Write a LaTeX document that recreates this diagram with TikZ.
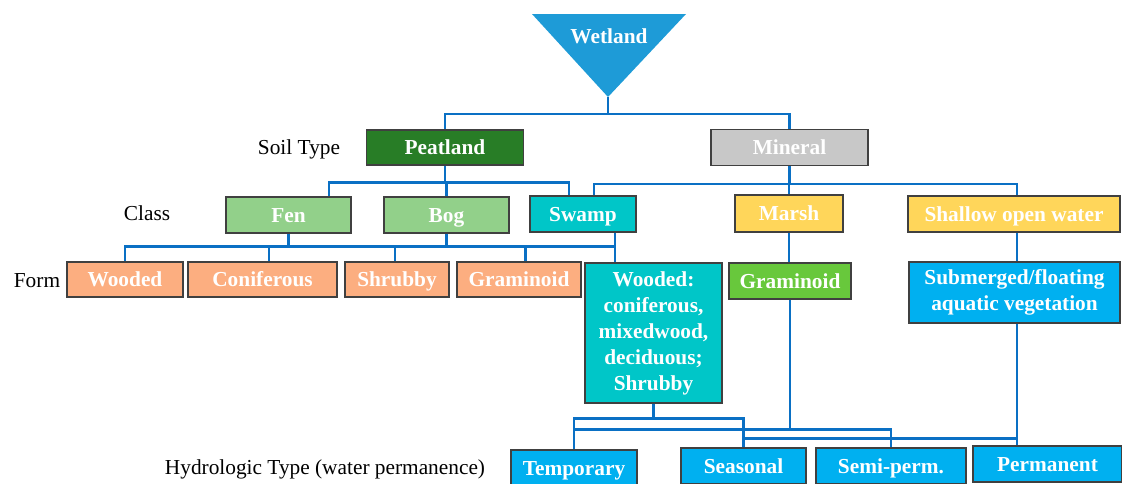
\documentclass[tikz,border=0pt]{standalone}
\usepackage{fontspec}
\setmainfont{Liberation Serif}
\usetikzlibrary{calc}
\definecolor{linkblue}{RGB}{10,112,196}
\definecolor{wetblue}{RGB}{30,155,215}
\definecolor{peatgreen}{RGB}{40,125,38}
\definecolor{mingray}{RGB}{200,200,200}
\definecolor{classgreen}{RGB}{146,208,138}
\definecolor{swampteal}{RGB}{0,198,200}
\definecolor{marshyellow}{RGB}{255,214,90}
\definecolor{formorange}{RGB}{252,174,128}
\definecolor{gramgreen}{RGB}{104,200,60}
\definecolor{hydroblue}{RGB}{0,176,240}
\definecolor{boxedge}{RGB}{64,64,64}

\begin{document}
\begin{tikzpicture}[x=0.75pt, y=-0.75pt,
  link/.style={draw=linkblue, line width=2pt},
  sz/.style 2 args={minimum width=#1*0.75pt, minimum height=#2*0.75pt},
  box/.style={draw=boxedge, line width=0.8pt, text=white, inner sep=0pt, align=center,
    font=\fontsize{16}{19.5}\selectfont\bfseries},
  onebox/.style={box, text height=11pt, text depth=0.4pt},
  lbl/.style={font=\fontsize{16}{19.5}\selectfont}]
\useasboundingbox (0,0) rectangle (1122,483);
% top
\fill[wetblue] (532,14) -- (686,14) -- (608,97) -- cycle;
\coordinate (apex) at (608,97);
\node[text=white, font=\fontsize{16}{19.5}\selectfont\bfseries] (wet) at (609,36) {Wetland};
% soil type
\node[onebox, fill=peatgreen, sz={157}{35}] (peat) at (445,147.5) {Peatland};
\node[onebox, fill=mingray, sz={157}{36}] (min) at (789.5,147.5) {Mineral};
% class
\node[onebox, fill=classgreen, sz={125}{36}] (fen) at (288.5,215) {Fen};
\node[onebox, fill=classgreen, sz={125}{36}] (bog) at (446.5,215) {Bog};
\node[onebox, fill=swampteal, sz={106}{36}] (swamp) at (583,214) {Swamp};
\node[onebox, fill=marshyellow, sz={108}{37}] (marsh) at (789,213.5) {Marsh};
\node[onebox, fill=marshyellow, sz={212}{36}] (sow) at (1014,214) {Shallow open water};
% form
\node[onebox, fill=formorange, sz={116}{35}] (wood) at (125,279.5) {Wooded};
\node[onebox, fill=formorange, sz={149}{35}] (conif) at (262.5,279.5) {Coniferous};
\node[onebox, fill=formorange, sz={104}{35}] (shrub) at (397,279.5) {Shrubby};
\node[onebox, fill=formorange, sz={124}{35}] (gram) at (519,279.5) {Graminoid};
\node[box, fill=swampteal, sz={137}{140}] (swf) at (653.5,333) {Wooded:\\coniferous,\\mixedwood,\\deciduous;\\Shrubby};
\node[onebox, fill=gramgreen, sz={122}{36}] (gramm) at (790,281) {Graminoid};
\node[box, fill=hydroblue, sz={211}{61}] (subm) at (1014.5,292.5) {Submerged/floating\\aquatic vegetation};
% hydrologic type
\node[onebox, fill=hydroblue, sz={126}{36}] (temp) at (574,468) {Temporary};
\node[onebox, fill=hydroblue, sz={125}{36}] (seas) at (743.5,466) {Seasonal};
\node[onebox, fill=hydroblue, sz={150}{36}] (semi) at (891,466) {Semi-perm.};
\node[onebox, fill=hydroblue, sz={149}{36}] (perm) at (1047.5,464) {Permanent};
%Text
\node[lbl] (soil) at (299,149) {Soil Type};
\node[lbl] (class) at (147,213) {Class};
\node[lbl] (form) at (37,281) {Form};
\node[lbl] (hydro) at (325,469) {Hydrologic Type (water permanence)};
% links
\draw[link] (apex) -- ++(0,17) coordinate (j0);
\draw[link] (peat.north) |- (j0) -| (min.north);
\draw[link] (peat.south) -- ++(0,17) coordinate (pj);
\draw[link] ($(fen.north)+(40.5,0)$) |- (pj) -| ($(swamp.north)+(-14,0)$);
\draw[link] (bog.north) -- (bog.north |- pj);
\draw[link] (min.south) -- ++(0,18) coordinate (mj);
\draw[link] ($(swamp.north)+(11,0)$) |- (mj) -| ($(sow.north)+(3,0)$);
\draw[link] (marsh.north) -- (marsh.north |- mj);
\draw[link] (fen.south) -- ++(0,13) coordinate (fj);
\draw[link] (bog.south) -- (bog.south |- fj);
\coordinate (sd) at ($(swamp.south)+(32,0)$);
\draw[link] (wood.north) |- (fj) -| (sd);
\draw[link] (sd) -- (sd |- swf.north);
\foreach \n/\dx in {conif/6.5, shrub/-2, gram/6.5}
  \draw[link] ($(\n.north)+(\dx,0)$) -- ++(0,-16);
\draw[link] (marsh.south) -- (marsh.south |- gramm.north);
\coordinate (sd1) at ($(sow.south)+(3,0)$);
\draw[link] (sd1) -- (sd1 |- subm.north);
\draw[link] (swf.south) -- ++(0,15) coordinate (hj1);
\draw[link] (temp.north) |- (hj1) -| (seas.north);
\draw[link] (gramm.south) -- ++(0,130) coordinate (hj2);
\draw[link] (temp.north) |- (hj2) -| (semi.north);
\coordinate (sd2) at ($(subm.south)+(2.5,0)$);
\draw[link] (sd2) -- (sd2 |- perm.north);
\draw[link] (seas.north) |- ($(sd2 |- perm.north)+(0,-7)$);
\end{tikzpicture}
\end{document}
